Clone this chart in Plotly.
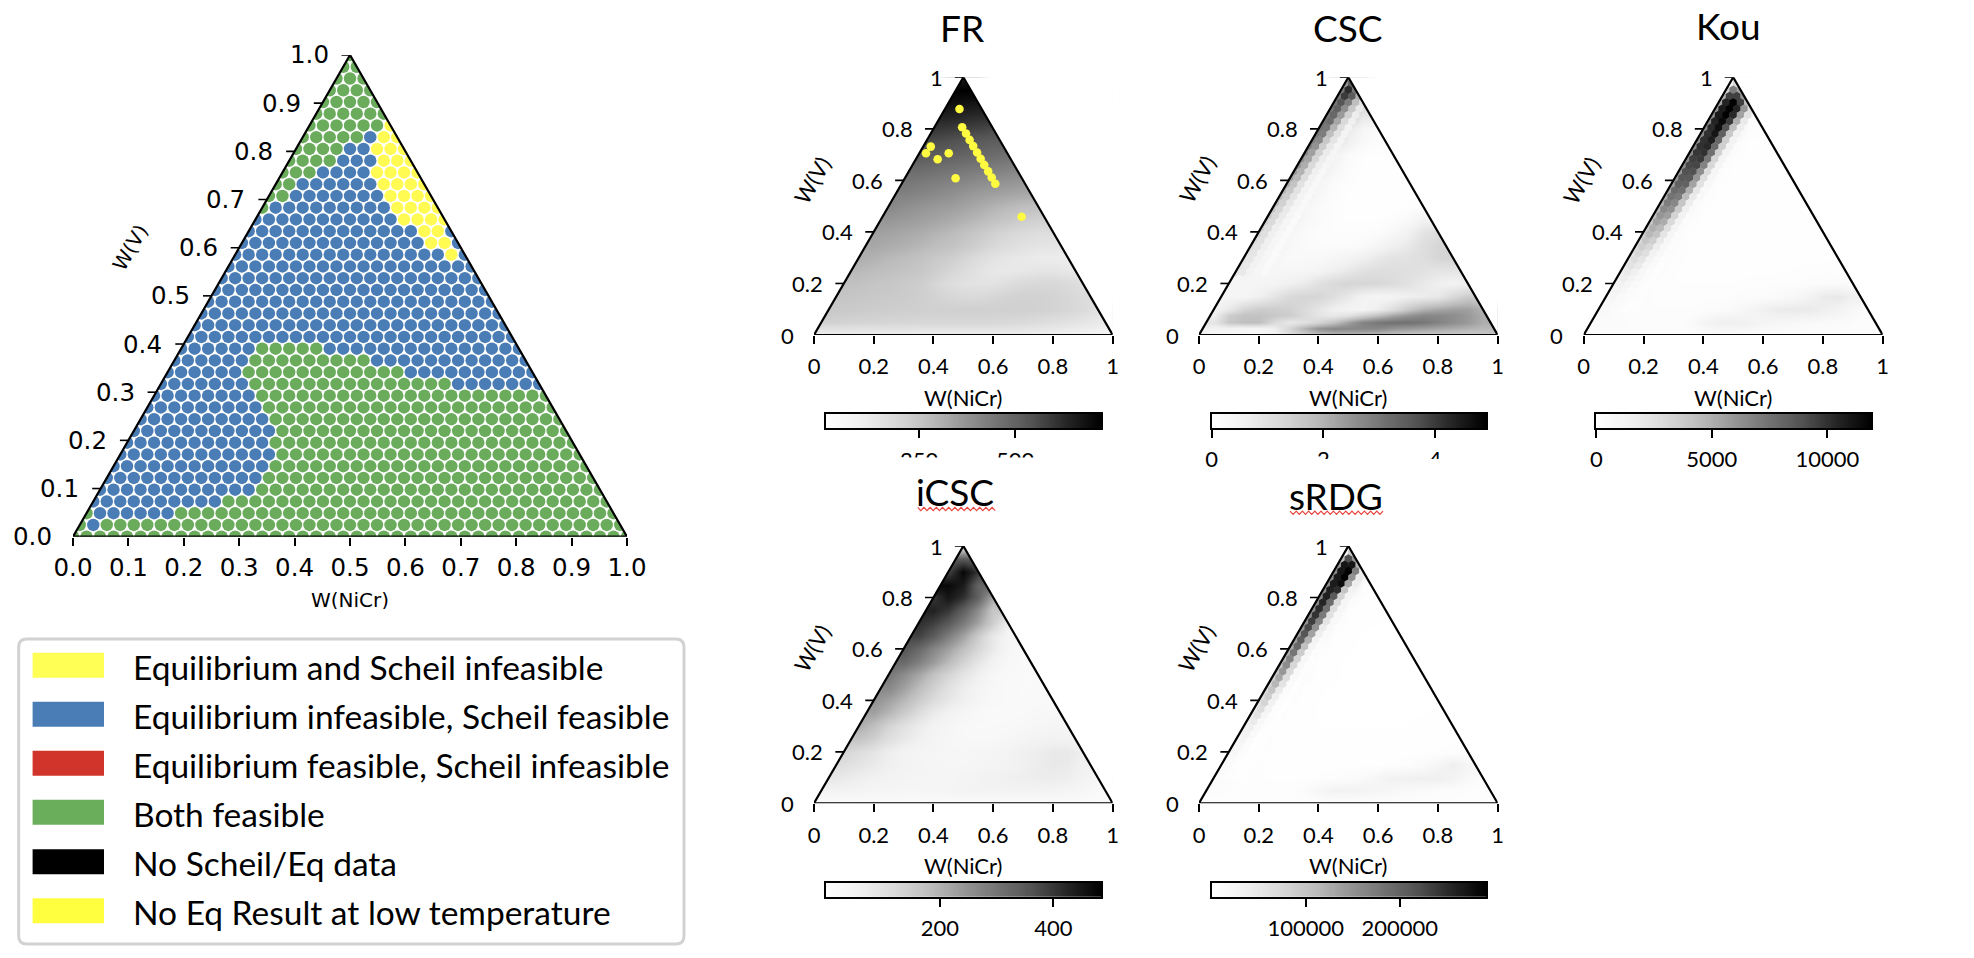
import numpy as np
import plotly.graph_objects as go

W, H = 1974, 958
GREYS = [[0, '#ffffff'], [.125, '#f0f0f0'], [.25, '#d9d9d9'], [.375, '#bdbdbd'], [.5, '#969696'],
         [.625, '#737373'], [.75, '#525252'], [.875, '#252525'], [1, '#000000']]

# ---------- left map: colour runs per row, left to right, keyed by row number ----------
FEASIBILITY_RUNS = {
    41: [("G", 1)], 40: [("G", 2)], 39: [("G", 3)], 38: [("G", 4)], 37: [("G", 5)], 36: [("G", 6)],
    35: [("G", 6), ("Y", 1)], 34: [("G", 5), ("B", 1), ("Y", 2)], 33: [("G", 4), ("B", 2), ("Y", 3)],
    32: [("G", 4), ("B", 3), ("Y", 3)], 31: [("G", 3), ("B", 4), ("Y", 4)], 30: [("G", 2), ("B", 6), ("Y", 4)],
    29: [("G", 2), ("B", 7), ("Y", 4)], 28: [("G", 1), ("B", 9), ("Y", 4)], 27: [("B", 11), ("Y", 4)],
    26: [("B", 13), ("Y", 2), ("B", 1)], 25: [("B", 14), ("Y", 2), ("B", 1)], 24: [("B", 16), ("Y", 1), ("B", 1)],
    23: [("B", 19)], 22: [("B", 20)], 21: [("B", 21)], 20: [("B", 22)], 19: [("B", 23)], 18: [("B", 24)], 17: [("B", 25)],
    16: [("B", 6), ("G", 5), ("B", 15)], 15: [("B", 6), ("G", 9), ("B", 12)], 14: [("B", 6), ("G", 12), ("B", 10)],
    13: [("B", 7), ("G", 15), ("B", 7)], 12: [("B", 8), ("G", 22)], 11: [("B", 9), ("G", 22)], 10: [("B", 10), ("G", 22)],
    9: [("B", 11), ("G", 22)], 8: [("B", 11), ("G", 23)], 7: [("B", 12), ("G", 23)], 6: [("B", 12), ("G", 24)],
    5: [("B", 12), ("G", 25)], 4: [("B", 12), ("G", 26)], 3: [("B", 10), ("G", 29)], 2: [("G", 1), ("B", 6), ("G", 33)],
    1: [("G", 1), ("B", 1), ("G", 39)], 0: [("G", 42)],
}
FEASIBILITY_STEPS = 41
CLASS_COLORS = {"G": "#6AAC5C", "B": "#4A7DB5", "Y": "#FFFB53"}

LEGEND_LABELS = ["Equilibrium and Scheil infeasible", "Equilibrium infeasible, Scheil feasible",
                 "Equilibrium feasible, Scheil infeasible", "Both feasible", "No Scheil/Eq data",
                 "No Eq Result at low temperature"]
LEGEND_COLORS = ["#FFFF55", "#4A7DB5", "#D0342B", "#6AAE5C", "#000000", "#FFFF40"]

LEFT_TICKS = [0.0, 0.1, 0.2, 0.3, 0.4, 0.5, 0.6, 0.7, 0.8, 0.9, 1.0]
LEFT_TICK_TEXT = ["0.0", "0.1", "0.2", "0.3", "0.4", "0.5", "0.6", "0.7", "0.8", "0.9", "1.0"]
SMALL_TICKS = [0, 0.2, 0.4, 0.6, 0.8, 1]
SMALL_TICK_TEXT = ["0", "0.2", "0.4", "0.6", "0.8", "1"]

# ---------- gridded panels: rows bottom to top, cells left to right across the triangle ----------
ROW_Y = [0, .05, .1, .15, .2, .25, .3, .35, .4, .45, .5, .55, .6, .65, .7, .75, .8, .85, .9, .95, 1]
CSC_ROW_Y = [0, .025, .05, .075, .1, .15, .2, .25, .3, .35, .4, .45, .5, .55, .6, .65, .7, .75, .8, .85, .9, .95, 1]

FR = [[90, 95, 100, 100, 100, 100, 100, 100, 100, 100, 100, 100, 100, 100, 100, 95, 90, 85, 80, 70, 60],
      [210, 205, 200, 200, 195, 195, 190, 190, 190, 190, 190, 190, 185, 180, 170, 160, 150, 135, 120],
      [240, 235, 230, 225, 225, 220, 220, 215, 215, 215, 215, 215, 215, 215, 210, 205, 195, 180, 150],
      [250, 245, 240, 235, 230, 220, 210, 195, 185, 185, 195, 205, 210, 210, 205, 195, 175],
      [265, 260, 250, 245, 235, 225, 200, 175, 155, 150, 150, 165, 185, 190, 190, 180, 165],
      [285, 275, 265, 255, 245, 225, 200, 175, 150, 130, 125, 130, 140, 140, 130],
      [310, 300, 285, 275, 260, 240, 225, 200, 175, 150, 135, 125, 115, 110, 105],
      [325, 315, 305, 290, 275, 260, 240, 215, 190, 170, 155, 145, 140],
      [345, 335, 325, 315, 300, 285, 265, 240, 215, 195, 180, 170, 165],
      [365, 355, 345, 335, 320, 305, 285, 265, 245, 225, 215],
      [400, 385, 370, 360, 350, 335, 320, 300, 285, 270, 260],
      [420, 410, 400, 385, 370, 355, 345, 335, 325],
      [450, 440, 430, 420, 410, 395, 385, 375, 365],
      [480, 470, 460, 450, 440, 430, 420],
      [525, 515, 505, 495, 485, 475, 465],
      [555, 545, 530, 520, 510],
      [600, 590, 580, 570, 560],
      [640, 630, 620],
      [690, 680, 670],
      [724],
      [650]]

CSC = [[0.8, 0.3, 0.3, 0.3, 0.3, 0.5, 1.0, 1.4, 1.7, 1.8, 1.8, 1.8, 1.7, 1.6, 1.5, 1.5, 1.5, 1.5, 1.5, 1.6, 1.7],
       [0.5, 0.5, 0.4, 0.4, 0.6, 1.3, 2.0, 2.5, 2.7, 2.7, 2.7, 2.7, 2.5, 2.4, 2.3, 2.2, 2.1, 2.0, 1.9],
       [0.9, 1.6, 1.8, 1.8, 1.2, 0.8, 1.0, 1.3, 1.7, 2.3, 2.8, 3.0, 3.1, 3.1, 3.0, 2.8, 2.6, 2.4, 2.1],
       [0.6, 1.5, 1.7, 1.7, 1.6, 1.5, 1.2, 0.9, 0.8, 1.0, 1.4, 1.8, 2.2, 2.5, 2.7, 2.7, 2.6, 2.4, 2.1],
       [0.5, 0.8, 1.3, 1.5, 1.5, 1.4, 1.2, 0.9, 0.6, 0.45, 0.45, 0.7, 1.1, 1.6, 2.0, 2.2, 2.3, 2.3, 2.0],
       [0.4, 0.4, 0.6, 0.9, 1.2, 1.3, 1.3, 1.1, 0.8, 0.5, 0.4, 0.45, 0.6, 0.7, 0.8, 1.2, 1.5],
       [0.4, 0.4, 0.4, 0.45, 0.6, 0.75, 1.0, 1.2, 1.3, 1.3, 1.25, 1.15, 1.0, 0.8, 0.6, 0.5, 0.6],
       [0.5, 0.4, 0.35, 0.35, 0.35, 0.45, 0.6, 0.8, 1.0, 1.1, 1.1, 1.05, 1.0, 0.9, 0.9],
       [0.6, 0.45, 0.35, 0.25, 0.25, 0.25, 0.35, 0.45, 0.6, 0.8, 0.95, 1.0, 1.1, 1.3, 1.35],
       [0.7, 0.5, 0.3, 0.2, 0.15, 0.15, 0.15, 0.2, 0.4, 0.6, 0.8, 1.1, 1.3],
       [0.75, 0.55, 0.35, 0.2, 0.12, 0.1, 0.1, 0.1, 0.15, 0.3, 0.55, 0.95, 1.1],
       [0.8, 0.6, 0.35, 0.18, 0.1, 0.05, 0.05, 0.05, 0.1, 0.25, 0.5],
       [0.9, 0.7, 0.4, 0.2, 0.1, 0.05, 0.03, 0.03, 0.03, 0.06, 0.12],
       [1.0, 0.7, 0.35, 0.15, 0.05, 0.03, 0.03, 0.03, 0.05],
       [1.2, 0.85, 0.45, 0.2, 0.08, 0.03, 0.03, 0.03, 0.05],
       [1.4, 0.9, 0.4, 0.15, 0.05, 0.03, 0.05],
       [1.7, 1.1, 0.5, 0.2, 0.06, 0.05, 0.08],
       [2.0, 1.2, 0.6, 0.25, 0.12],
       [2.6, 1.6, 0.8, 0.35, 0.2],
       [2.8, 1.6, 0.8],
       [3.0, 2.4, 1.3],
       [3.6],
       [3.0]]

# cells counted from the left edge, per row, for the dark ridge along that edge
CSC_RIDGE = {
    40: [2.5, 3.5], 39: [3.0, 4.2, 3.0], 38: [3.0, 4.0, 3.5, 2.0], 37: [3.0, 3.6, 2.9, 1.8, 0.9], 36: [3.0, 3.4, 2.6, 1.6, 0.8],
    35: [3.0, 3.3, 2.4, 1.4, 0.7], 34: [3.1, 3.2, 2.2, 1.2, 0.6], 33: [3.1, 3.0, 2.0, 1.1, 0.5], 32: [3.0, 2.9, 1.8, 1.0, 0.5],
    31: [2.9, 2.7, 1.6, 0.9, 0.45], 30: [2.8, 2.5, 1.5, 0.8, 0.4], 29: [2.7, 2.3, 1.4, 0.75, 0.4], 28: [2.6, 2.2, 1.3, 0.7, 0.35],
    27: [2.5, 2.1, 1.2, 0.65, 0.35], 26: [2.4, 2.0, 1.15, 0.6, 0.3], 25: [2.3, 1.9, 1.1, 0.55, 0.3], 24: [2.1, 1.7, 1.0, 0.5, 0.3],
    23: [2.0, 1.6, 0.95, 0.5, 0.28], 22: [1.9, 1.5, 0.9, 0.45, 0.25], 21: [1.8, 1.4, 0.85, 0.45, 0.25], 20: [1.7, 1.3, 0.8, 0.4, 0.25],
    19: [1.6, 1.25, 0.75, 0.4, 0.22], 18: [1.5, 1.2, 0.7, 0.38, 0.22], 17: [1.4, 1.1, 0.65, 0.35, 0.2], 16: [1.3, 1.05, 0.6, 0.35, 0.2],
    15: [1.2, 1.0, 0.6, 0.35, 0.2], 14: [1.1, 0.95, 0.6, 0.35, 0.2], 13: [1.0, 0.9, 0.55, 0.35, 0.2], 12: [1.0, 0.85, 0.55, 0.35, 0.22],
    11: [0.95, 0.8, 0.55, 0.35, 0.22], 10: [0.9, 0.8, 0.5, 0.35, 0.25],
}

KOU = [[300, 300, 300, 300, 300, 300, 300, 300, 300, 300, 300, 300, 300, 300, 300, 300, 300, 300, 300, 300, 300],
       [400, 400, 350, 300, 300, 300, 400, 1000, 1500, 1500, 1300, 1000, 800, 700, 600, 500, 450, 350, 250],
       [700, 450, 300, 250, 250, 250, 250, 300, 400, 600, 900, 1400, 1800, 1900, 1900, 1600, 1200, 700, 350],
       [900, 500, 300, 200, 200, 200, 200, 200, 250, 300, 350, 450, 700, 1100, 1800, 2000, 1400],
       [1200, 700, 300, 200, 150, 150, 150, 150, 150, 200, 200, 250, 250, 300, 350, 450, 450],
       [1800, 800, 300, 150, 120, 100, 100, 100, 100, 120, 120, 150, 180, 200, 200],
       [2400, 1800, 500, 200, 120, 100, 80, 80, 80, 80, 80, 100, 120, 120, 120],
       [3600, 1200, 300, 120, 100, 80, 70, 70, 70, 70, 80, 100, 120],
       [4500, 2800, 500, 150, 100, 80, 70, 70, 70, 70, 70, 80, 100],
       [5600, 1500, 300, 100, 80, 70, 70, 70, 70, 70, 80],
       [5500, 4200, 600, 150, 80, 70, 70, 70, 70, 80, 80],
       [7000, 2000, 300, 100, 70, 70, 70, 70, 80],
       [7500, 4800, 600, 200, 80, 70, 70, 70, 80],
       [8800, 1800, 300, 120, 80, 70, 70],
       [8500, 5500, 700, 200, 100, 80, 80],
       [10000, 2200, 400, 150, 100],
       [8000, 9800, 1200, 250, 150],
       [10500, 4200, 350],
       [8000, 11800, 2600],
       [6000],
       [2000]]

KOU_RIDGE = {
    40: [1500, 3000], 39: [3500, 7000, 5500], 38: [5000, 9500, 9500, 6000], 37: [5500, 10500, 11800, 9500, 4500],
    36: [6000, 10800, 11800, 10500, 6000, 2500], 35: [6500, 10800, 11800, 10300, 5500, 2400],
    34: [6500, 10500, 11500, 9700, 5000, 1900], 33: [6500, 10200, 11300, 8800, 4300, 1600],
    32: [6500, 10000, 11000, 8300, 3800, 1300], 31: [6500, 10000, 10700, 8000, 3500, 1200],
    30: [6500, 10000, 10300, 7800, 3500, 1200], 29: [6500, 9800, 10000, 7600, 3400, 1100],
    28: [6300, 9500, 9700, 7200, 3200, 1000], 27: [6200, 9200, 9300, 6800, 3000, 950],
    26: [6000, 8900, 8900, 6300, 2800, 850], 25: [5800, 8600, 8600, 5900, 2600, 750],
    24: [5600, 8200, 8200, 5500, 2400, 700], 23: [5300, 7800, 7600, 5000, 2100, 600],
    22: [5100, 7400, 7100, 4500, 1900, 550], 21: [4800, 7000, 6600, 4000, 1600, 500],
    20: [4500, 6500, 6100, 3700, 1500, 450], 19: [4200, 6000, 5600, 3300, 1300, 420],
    18: [3900, 5500, 5100, 2900, 1150, 400], 17: [3600, 5000, 4600, 2500, 1000, 360],
    16: [3300, 4600, 4100, 2200, 900, 330], 15: [2900, 4000, 3500, 1900, 800, 300],
    14: [2600, 3500, 3000, 1600, 700, 280], 13: [2300, 3100, 2600, 1300, 650, 260],
    12: [2000, 2700, 2200, 1100, 580, 240], 11: [1800, 2300, 1900, 900, 500, 220],
    10: [1500, 1900, 1500, 750, 420, 200], 9: [1300, 1600, 1200, 650, 370, 180],
    8: [1100, 1300, 950, 550, 330, 170], 7: [900, 1050, 750, 470, 300, 160],
    6: [750, 850, 620, 400, 270, 150], 5: [600, 700, 520, 350, 240, 150], 4: [500, 580, 430, 300, 220, 150],
}

ICSC = [[20, 20, 20, 20, 20, 20, 20, 20, 20, 20, 20, 20, 20, 20, 20, 20, 20, 20, 20, 20, 20],
        [50, 50, 45, 40, 40, 38, 38, 40, 42, 48, 50, 50, 50, 50, 50, 48, 42, 35, 25],
        [85, 75, 65, 55, 50, 45, 40, 40, 40, 45, 50, 55, 60, 65, 70, 70, 65, 50, 35],
        [105, 90, 75, 60, 50, 45, 40, 38, 38, 40, 45, 50, 60, 70, 80, 75, 55],
        [130, 110, 90, 65, 50, 42, 38, 35, 35, 38, 42, 50, 60, 68, 80, 80, 60],
        [165, 140, 105, 80, 60, 45, 35, 30, 28, 30, 35, 42, 50, 55, 50],
        [208, 175, 130, 100, 72, 50, 40, 30, 26, 26, 28, 32, 38, 40, 38],
        [225, 190, 150, 110, 75, 52, 38, 28, 24, 24, 26, 30, 32],
        [250, 225, 190, 150, 115, 85, 60, 40, 30, 24, 22, 24, 26],
        [265, 225, 180, 140, 100, 68, 45, 30, 24, 22, 24],
        [295, 255, 215, 170, 130, 90, 60, 35, 26, 22, 22],
        [320, 280, 235, 185, 135, 88, 50, 30, 24],
        [355, 320, 270, 225, 175, 125, 75, 38, 26],
        [385, 345, 285, 225, 150, 80, 40],
        [410, 390, 350, 290, 222, 145, 60],
        [430, 400, 340, 260, 160],
        [400, 450, 410, 335, 215],
        [470, 440, 330],
        [380, 475, 400],
        [350],
        [100]]

SRDG = [[5000, 5000, 5000, 5000, 5000, 5000, 5000, 5000, 5000, 5000, 5000, 5000, 5000, 5000, 5000, 5000, 5000, 5000, 5000, 5000, 5000],
        [7000, 6000, 5000, 5000, 5000, 5000, 9000, 22000, 30000, 30000, 28000, 24000, 20000, 15000, 12000, 9000, 8000, 6000, 5000],
        [12000, 8000, 5000, 4000, 3000, 3000, 3000, 4000, 6000, 9000, 14000, 24000, 32000, 35000, 36000, 36000, 30000, 15000, 6000],
        [15000, 8000, 4000, 3000, 2500, 2500, 2500, 2500, 2500, 3000, 3000, 4000, 6000, 12000, 24000, 38000, 25000],
        [18000, 8000, 3500, 2500, 2000, 2000, 2000, 2000, 2000, 2000, 2000, 2500, 3000, 3000, 4000, 6000, 6000],
        [25000, 8000, 3000, 2000, 1500, 1500, 1500, 1500, 1500, 1500, 1500, 1500, 2000, 2000, 2000],
        [35000, 18000, 4000, 2000, 1500, 1200, 1200, 1200, 1200, 1200, 1200, 1200, 1500, 1500, 1500],
        [50000, 9000, 2500, 1500, 1200, 1000, 1000, 1000, 1000, 1000, 1000, 1200, 1500],
        [65000, 45000, 6000, 2000, 1200, 1000, 1000, 800, 800, 800, 800, 1000, 1200],
        [90000, 12000, 3000, 1500, 1000, 800, 800, 800, 800, 800, 1000],
        [100000, 70000, 8000, 2500, 1500, 1000, 800, 800, 800, 800, 1000],
        [150000, 10000, 3000, 1500, 1000, 800, 800, 800, 1000],
        [120000, 100000, 8000, 3000, 1500, 1000, 800, 800, 1000],
        [190000, 15000, 3500, 1500, 1000, 1000, 1000],
        [150000, 130000, 9000, 3000, 1500, 1200, 1200],
        [230000, 25000, 4000, 2000, 1500],
        [180000, 210000, 15000, 3500, 2000],
        [260000, 60000, 6000],
        [180000, 285000, 30000],
        [120000],
        [20000]]

SRDG_RIDGE = {
    40: [40000, 90000], 39: [110000, 220000, 150000], 38: [150000, 270000, 270000, 120000],
    37: [160000, 270000, 291000, 170000, 40000], 36: [160000, 265000, 290000, 150000, 45000],
    35: [160000, 265000, 280000, 130000, 40000], 34: [160000, 260000, 250000, 100000, 30000],
    33: [160000, 260000, 210000, 80000, 25000], 32: [160000, 255000, 190000, 70000, 22000],
    31: [155000, 250000, 185000, 65000, 20000], 30: [155000, 245000, 175000, 60000, 18000],
    29: [150000, 235000, 165000, 55000, 16000], 28: [145000, 225000, 150000, 45000, 14000],
    27: [140000, 215000, 135000, 38000, 12000], 26: [135000, 205000, 120000, 30000, 10000],
    25: [130000, 195000, 105000, 25000, 8000], 24: [125000, 180000, 90000, 20000, 7000],
    23: [115000, 165000, 80000, 18000, 6000], 22: [105000, 155000, 75000, 16000, 5000],
    21: [95000, 145000, 70000, 14000, 4500], 20: [85000, 130000, 65000, 12000, 4000],
    19: [78000, 115000, 55000, 10000, 3500], 18: [70000, 100000, 45000, 9000, 3000],
    17: [62000, 88000, 38000, 8000, 2800], 16: [55000, 78000, 32000, 7000, 2500],
    15: [48000, 66000, 26000, 6000, 2200], 14: [40000, 55000, 22000, 5000, 2000],
    13: [34000, 45000, 18000, 4500, 1800], 12: [28000, 36000, 15000, 4000, 1600],
    11: [24000, 30000, 12000, 3500, 1500], 10: [20000, 25000, 10000, 3000, 1500],
    9: [17000, 20000, 8500, 2800, 1500], 8: [14000, 16000, 7000, 2500, 1500],
    7: [12000, 13000, 6000, 2300, 1500], 6: [10000, 11000, 5000, 2200, 1500],
    5: [8500, 9000, 4500, 2000, 1500], 4: [7000, 7500, 4000, 2000, 1500],
}

# yellow points drawn on the FR panel
FR_POINTS_X = [.487, .391, .375, .414, .451, .474, .695, .496, .509, .521, .533, .546, .558, .570, .583, .595, .607]
FR_POINTS_V = [.877, .731, .705, .682, .705, .608, .459, .806, .782, .757, .733, .708, .684, .660, .635, .611, .587]

# ---------- layout description ----------
PANELS = [
    dict(name="FR", z=FR, ys=ROW_Y, L=814, R=1112.7, T=77.3, B=335, zmin=8, zmax=724, title=(961.7, 28), vlabel=(811.7, 180),
         cb=(826.3, 1101, 414, 428.3), ticks=[250, 500], tick_text=["250", "500"]),
    dict(name="CSC", z=CSC, ridge=CSC_RIDGE, ys=CSC_ROW_Y, L=1199, R=1497.7, T=77.3, B=335, zmin=0, zmax=4.91, title=(1348, 28), vlabel=(1196.7, 179),
         cb=(1211.7, 1486, 414, 427.9), ticks=[0, 2, 4], tick_text=["0", "2", "4"]),
    dict(name="Kou", z=KOU, ridge=KOU_RIDGE, ys=ROW_Y, L=1583.7, R=1882.7, T=77.3, B=335, zmin=0, zmax=11890, title=(1728.3, 25), vlabel=(1581, 180),
         cb=(1596.3, 1871, 414, 428), ticks=[0, 5000, 10000], tick_text=["0", "5000", "10000"]),
    dict(name="iCSC", z=ICSC, ys=ROW_Y, L=814, R=1112.7, T=546, B=803.3, zmin=0, zmax=484, title=(955, 491.7), vlabel=(811.7, 648),
         cb=(826.3, 1101, 882.7, 896.7), ticks=[200, 400], tick_text=["200", "400"]),
    dict(name="sRDG", z=SRDG, ridge=SRDG_RIDGE, ys=ROW_Y, L=1199, R=1497.7, T=546, B=803.3, zmin=0, zmax=291800, title=(1335.7, 495), vlabel=(1196, 648),
         cb=(1211.7, 1486, 882.7, 896.7), ticks=[100000, 200000], tick_text=["100000", "200000"]),
]
GRID_STEP = 0.05
GRID_X = [round(i * GRID_STEP, 2) for i in range(21)]
HEX_STEPS = 41


def fill_row(y, row, blank):
    """Place a row on the full grid; grid cells beyond the triangle only carry a fill that the masks hide."""
    start = int(np.ceil(y / 2 / GRID_STEP - 1e-9))
    cells = [row[0]] * start + list(row)
    cells += [row[-1]] * (len(GRID_X) - len(cells))
    cells = cells[:len(GRID_X)]
    if start >= 2:          # keep the outer columns blank so no dark edge shows at the subplot boundary
        cells[0] = cells[-1] = blank
    if y >= 1:              # same along the top boundary
        cells = [c if 9 <= k <= 11 else blank for k, c in enumerate(cells)]
    return cells


def px(x):
    return x / W


def py(y):
    return 1 - y / H


fig = go.Figure()
layout = {}
shapes = []
annotations = []
axis_no = [0]


def new_axes(left, right, top, bottom):
    axis_no[0] += 1
    n = axis_no[0]
    suffix = "" if n == 1 else str(n)
    layout["xaxis" + suffix] = dict(domain=[px(left), px(right)], range=[0, 1], anchor="y" + suffix, automargin=False,
                                    showgrid=False, zeroline=False, fixedrange=True)
    layout["yaxis" + suffix] = dict(domain=[py(bottom), py(top)], range=[0, 1], anchor="x" + suffix, automargin=False,
                                    showgrid=False, zeroline=False, fixedrange=True, visible=False)
    return "xaxis" + suffix, "yaxis" + suffix, "x" + suffix, "y" + suffix


def triangle_furniture(xref, yref, width_px, ticks, tick_text, font, label_gap, tick_len=8.5):
    # white masks clipping the cells to the triangle
    for xs, ys in (([0, .5, .5, -.1, -.1], [0, 1, 1.1, 1.1, 0]), ([1, .5, .5, 1.1, 1.1], [0, 1, 1.1, 1.1, 0])):
        fig.add_trace(go.Scatter(x=xs, y=ys, mode="lines", fill="toself", fillcolor="white", line=dict(width=0),
                                 hoverinfo="skip", showlegend=False, xaxis=xref, yaxis=yref))
    fig.add_trace(go.Scatter(x=[0, 1, .5, 0], y=[0, 0, 1, 0], mode="lines", line=dict(color="black", width=2.2),
                             cliponaxis=False, hoverinfo="skip", showlegend=False, xaxis=xref, yaxis=yref))
    sx, sy = [], []
    for v in ticks:
        sx += [v / 2, v / 2 - tick_len / width_px, None]
        sy += [v, v, None]
    fig.add_trace(go.Scatter(x=sx, y=sy, mode="lines", line=dict(color="black", width=1.6), cliponaxis=False,
                             hoverinfo="skip", showlegend=False, xaxis=xref, yaxis=yref))
    for v, t in zip(ticks, tick_text):
        annotations.append(dict(x=v / 2, y=v, xref=xref, yref=yref, text=t, showarrow=False, xshift=-label_gap,
                                xanchor="right", yanchor="middle", font=font))


# ---------- left panel ----------
xa, ya, xr, yr = new_axes(73, 627, 55, 536.7)
points = {"G": ([], []), "B": ([], []), "Y": ([], [])}
for r, runs in FEASIBILITY_RUNS.items():
    i = 0
    for cls, count in runs:
        for _ in range(count):
            points[cls][0].append(i / FEASIBILITY_STEPS + r / (2 * FEASIBILITY_STEPS))
            points[cls][1].append(r / FEASIBILITY_STEPS)
            i += 1
for cls, (xs, ys) in points.items():
    fig.add_trace(go.Scatter(x=xs, y=ys, mode="markers", marker=dict(color=CLASS_COLORS[cls], size=12.4, line=dict(width=0)),
                             hoverinfo="skip", showlegend=False, xaxis=xr, yaxis=yr))
DEJAVU_T = dict(family="DejaVu Sans", size=24.5, color="black")
triangle_furniture(xr, yr, 554, LEFT_TICKS, LEFT_TICK_TEXT, DEJAVU_T, 19.5)
layout[xa].update(tickmode="array", tickvals=LEFT_TICKS, ticktext=LEFT_TICK_TEXT, ticks="outside", ticklen=8, tickwidth=1.6,
                  tickcolor="black", tickfont=DEJAVU_T, ticklabelstandoff=1)
# the x label is cut off at the bottom edge of its own small box
xa, ya, xr, yr = new_axes(290, 410, 585, 609)
layout[xa].update(visible=False)
fig.add_trace(go.Scatter(x=[.5], y=[.3], text=["W(NiCr)"], mode="text", textposition="middle center",
                         textfont=dict(family="DejaVu Sans", size=20, color="black"), hoverinfo="skip",
                         showlegend=False, xaxis=xr, yaxis=yr))
annotations.append(dict(x=px(130), y=py(248), xref="paper", yref="paper", text="W(V)", showarrow=False, textangle=-60,
                        xanchor="center", yanchor="middle", font=dict(family="DejaVu Sans", size=20, color="black")))

# ---------- small panels ----------
LATO_T = dict(family="Lato", size=22, color="black")
for p in PANELS:
    xa, ya, xr, yr = new_axes(p["L"], p["R"], p["T"], p["B"])
    fig.add_trace(go.Heatmap(x=GRID_X, y=p["ys"], z=[fill_row(y, row, p["zmin"]) for y, row in zip(p["ys"], p["z"])], zmin=p["zmin"], zmax=p["zmax"],
                             colorscale=GREYS, showscale=False, zsmooth="best", hoverinfo="skip", xaxis=xr, yaxis=yr))
    if "ridge" in p:
        hx, hy, hc = [], [], []
        for r, cells in p["ridge"].items():
            for i, value in enumerate(cells):
                hx.append(i / HEX_STEPS + r / (2 * HEX_STEPS))
                hy.append(r / HEX_STEPS)
                hc.append(value)
        fig.add_trace(go.Scatter(x=hx, y=hy, mode="markers", hoverinfo="skip", showlegend=False, xaxis=xr, yaxis=yr,
                                 marker=dict(symbol="hexagon", size=8.6, color=hc, colorscale=GREYS, cmin=p["zmin"], cmax=p["zmax"],
                                             line=dict(width=0))))
    if p["name"] == "FR":
        fig.add_trace(go.Scatter(x=FR_POINTS_X, y=FR_POINTS_V, mode="markers", marker=dict(color="#FFFB40", size=8.6, line=dict(width=0)),
                                 hoverinfo="skip", showlegend=False, xaxis=xr, yaxis=yr))
    triangle_furniture(xr, yr, p["R"] - p["L"], SMALL_TICKS, SMALL_TICK_TEXT, LATO_T, 18.5)
    layout[xa].update(tickmode="array", tickvals=SMALL_TICKS, ticktext=SMALL_TICK_TEXT, ticks="outside", ticklen=8, tickwidth=1.6,
                      tickcolor="black", tickfont=LATO_T, ticklabelstandoff=4)
    annotations.append(dict(x=(px(p["L"]) + px(p["R"])) / 2, y=py(p["B"] + 62), xref="paper", yref="paper", text="W(NiCr)", showarrow=False,
                            xanchor="center", yanchor="middle", font=LATO_T))
    annotations.append(dict(x=px(p["vlabel"][0]), y=py(p["vlabel"][1]), xref="paper", yref="paper", text="W(V)", showarrow=False,
                            textangle=-60, xanchor="center", yanchor="middle", font=LATO_T))
    annotations.append(dict(x=px(p["title"][0]), y=py(p["title"][1]), xref="paper", yref="paper", text=p["name"], showarrow=False,
                            xanchor="center", yanchor="middle", font=dict(family="Lato", size=37, color="black")))
    # colour bar
    c0, c1, c2, c3 = p["cb"]
    xa, ya, xr, yr = new_axes(c0, c1, c2, c3)
    levels = np.linspace(p["zmin"], p["zmax"], 256)
    fig.add_trace(go.Heatmap(x=levels, y=[0, 1], z=[levels, levels], zmin=p["zmin"], zmax=p["zmax"], colorscale=GREYS, showscale=False,
                             hoverinfo="skip", xaxis=xr, yaxis=yr))
    layout[xa].update(range=[p["zmin"], p["zmax"]], tickmode="array", tickvals=p["ticks"], ticktext=p["tick_text"], ticks="outside",
                      ticklen=8, tickwidth=1.6, tickcolor="black", tickfont=LATO_T, ticklabelstandoff=3,
                      showline=True, mirror=True, linecolor="black", linewidth=1.6)
    layout[ya].update(visible=True, showticklabels=False, ticks="", showline=True, mirror=True, linecolor="black", linewidth=1.6)

# labels cut off at the bottom of the FR and CSC colour bars
shapes.append(dict(type="rect", xref="paper", yref="paper", x0=px(850), x1=px(1110), y0=py(457.5), y1=py(472), layer="above",
                   fillcolor="white", line=dict(width=0)))
shapes.append(dict(type="rect", xref="paper", yref="paper", x0=px(1240), x1=px(1490), y0=py(459), y1=py(472), layer="above",
                   fillcolor="white", line=dict(width=0)))


# ---------- spell-check squiggles under two titles ----------
def squiggle(x0, x1, y):
    pts, x, up = [], x0, True
    while x <= x1:
        pts.append(f"{px(x):.5f},{py(y - 1.6 if up else y + 1.6):.5f}")
        x += 3.1
        up = not up
    return "M" + " L".join(pts)


for x0, x1, y in ((917.7, 997, 509), (1290, 1386, 512.7)):
    shapes.append(dict(type="path", xref="paper", yref="paper", path=squiggle(x0, x1, y), layer="above",
                       line=dict(color="#E8453C", width=1.2)))


# ---------- legend ----------
def rounded(x0, y0, x1, y1, r):
    def p(x, y):
        return f"{px(x):.5f},{py(y):.5f}"
    return (f"M{p(x0 + r, y0)} L{p(x1 - r, y0)} Q{p(x1, y0)} {p(x1, y0 + r)} L{p(x1, y1 - r)} Q{p(x1, y1)} {p(x1 - r, y1)} "
            f"L{p(x0 + r, y1)} Q{p(x0, y1)} {p(x0, y1 - r)} L{p(x0, y0 + r)} Q{p(x0, y0)} {p(x0 + r, y0)} Z")


shapes.append(dict(type="path", xref="paper", yref="paper", path=rounded(18.7, 639, 684, 944, 8), layer="above",
                   line=dict(color="#D2D2D2", width=3), fillcolor="white"))
SWATCH_TOPS = [652.7, 701.7, 750.7, 799.7, 849.3, 898.3]
for top, label, color in zip(SWATCH_TOPS, LEGEND_LABELS, LEGEND_COLORS):
    shapes.append(dict(type="rect", xref="paper", yref="paper", x0=px(32.6), x1=px(104), y0=py(top), y1=py(top + 25), layer="above",
                       fillcolor=color, line=dict(width=0)))
    annotations.append(dict(x=px(131), y=py(top + 14), xref="paper", yref="paper", text=label, showarrow=False,
                            xanchor="left", yanchor="middle", font=dict(family="Lato", size=33.5, color="black")))

fig.update_layout(template="none", width=W, height=H, margin=dict(l=0, r=0, t=0, b=0, autoexpand=False), autosize=False, paper_bgcolor="white",
                  plot_bgcolor="rgba(0,0,0,0)", showlegend=False, shapes=shapes, annotations=annotations, **layout)
fig.write_html("out.html", config=dict(displayModeBar=False),
               post_script="document.body.style.margin='0';document.body.style.overflow='hidden';")
